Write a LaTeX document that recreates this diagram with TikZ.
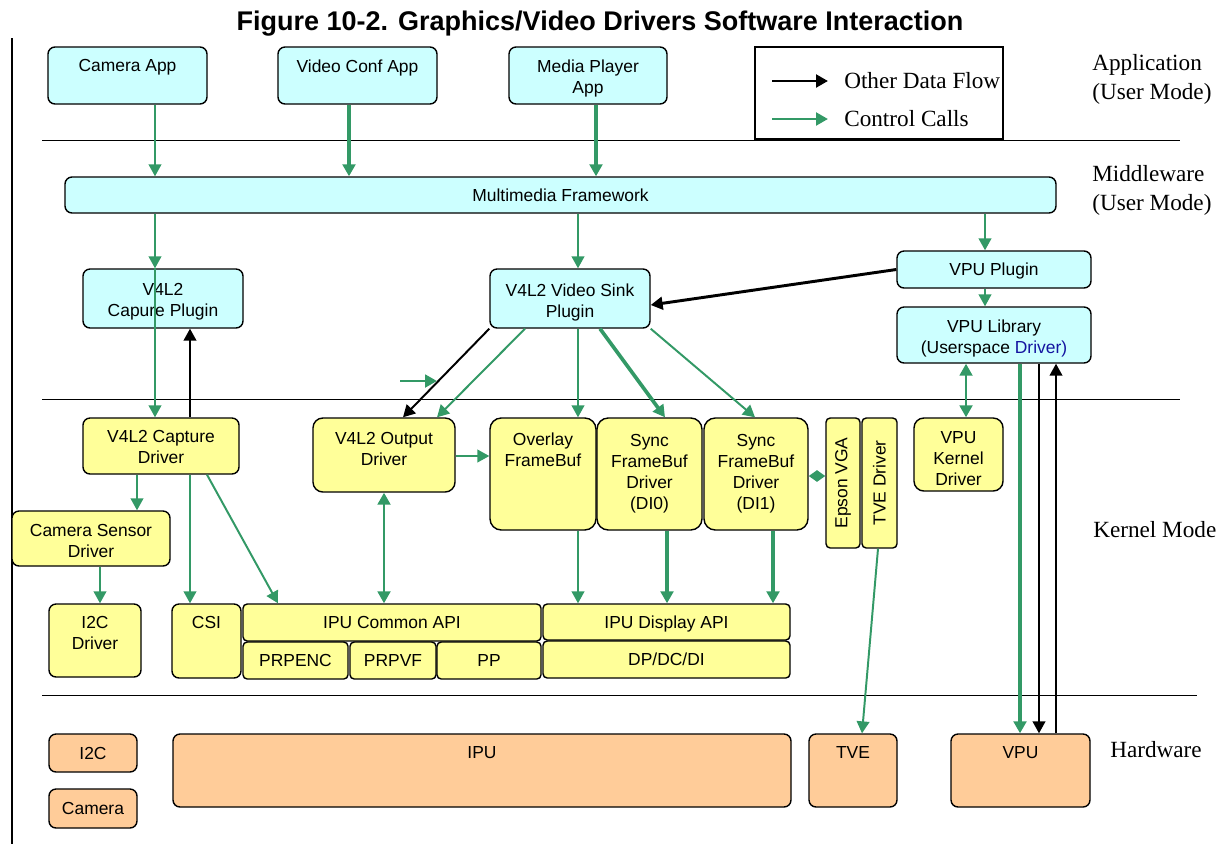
\documentclass[tikz,border=0pt]{standalone}
\usepackage{fontspec}
\setmainfont{Liberation Serif}
\setsansfont{Liberation Sans}
\usetikzlibrary{arrows.meta}
\definecolor{appcyan}{RGB}{204,255,255}
\definecolor{kernelyellow}{RGB}{255,255,153}
\definecolor{hworange}{RGB}{255,204,153}
\definecolor{ctrlgreen}{RGB}{51,153,102}
\definecolor{drvblue}{RGB}{20,20,160}
\newcommand{\boxfont}{\sffamily\fontsize{12.4}{15}\selectfont}
\newcommand{\layerfont}{\rmfamily\fontsize{16.5}{20.6}\selectfont}

\begin{document}
\begin{tikzpicture}[x=0.025cm, y=-0.025cm,
    >={Triangle[length=8.5pt, width=9pt]},
    box/.style={draw, rounded corners=5pt, line width=1pt, font=\boxfont, align=center, inner sep=1pt},
    appbox/.style={box, fill=appcyan},
    kbox/.style={box, fill=kernelyellow},
    hwbox/.style={box, fill=hworange},
    oneline/.style={text height=8.9pt, text depth=0pt},
    box size/.style 2 args={minimum width=#1*0.025cm, minimum height=#2*0.025cm},
    toptxt/.style={anchor=north, inner sep=0pt, yshift=-#1, font=\boxfont, align=center},
    toptxt/.default=0.32cm,
    layer/.style={font=\layerfont, align=left, inner sep=0pt},
    ctrl/.style={->, draw=ctrlgreen, line width=1.4pt},
    ctrl thick/.style={ctrl, line width=2.6pt},
    ctrl both/.style={<->, draw=ctrlgreen, line width=2pt},
    data/.style={->, draw=black, line width=1.4pt},
    data thick/.style={data, line width=2.1pt},
    sep/.style={line width=0.6pt}
]
    \useasboundingbox (0,0) rectangle (1220,844);

    % Title and layer separators
    \node[anchor=base, inner sep=0pt, font=\sffamily\bfseries\fontsize{19.2}{23}\selectfont] (title) at (600,30.7) {Figure 10-2. Graphics/Video Drivers Software Interaction};
    \draw[line width=1.6pt] (12,38) -- (12,844);
    \draw[sep] (42,140) -- (1180,140);
    \draw[sep] (42,399) -- (1180,399);
    \draw[sep] (42,695) -- (1197,695);

    % Layer names
    \node[layer, anchor=north west] (lapp) at (1092,54) {Application\\(User Mode)};
    \node[layer, anchor=north west] (lmid) at (1092,165) {Middleware\\(User Mode)};
    \node[layer, anchor=base west] (lkern) at (1093,537.7) {Kernel Mode};
    \node[layer, anchor=base west] (lhw) at (1110,757.7) {Hardware};

    % Legend
    \node[draw, line width=0.8pt, fill=white, box size={248}{92}] (legend) at (879,93) {};
    \node[layer, anchor=west] (lgdata) at (844,81) {Other Data Flow};
    \node[layer, anchor=west] (lgctrl) at (844,119) {Control Calls};
    \coordinate (lgdata-a) at (772,81);
    \coordinate (lgdata-b) at (828,81);
    \coordinate (lgctrl-a) at (772,119);
    \coordinate (lgctrl-b) at (828,119);
    \draw[data thick] (lgdata-a) -- (lgdata-b);
    \draw[ctrl, line width=2.1pt] (lgctrl-a) -- (lgctrl-b);

    % Applications
    \node[appbox, box size={159}{57}, label={[toptxt]north:Camera App}] (camapp) at (127.5,75.5) {};
    \node[appbox, box size={159}{57}, label={[toptxt]north:Video Conf App}] (confapp) at (357.5,75.5) {};
    \node[appbox, box size={158}{57}, label={[toptxt]north:Media Player\\App}] (mediaapp) at (588,75.5) {};

    % Middleware
    \node[appbox, oneline, box size={991}{36}] (mmf) at (560.5,195) {Multimedia Framework};
    \node[appbox, box size={160}{59}, label={[toptxt=0.37cm]north:V4L2\\Capure Plugin}] (capplugin) at (163,298.5) {};
    \node[appbox, box size={160}{59}, label={[toptxt=0.37cm]north:V4L2 Video Sink\\Plugin}] (sinkplugin) at (570,298.5) {};
    \node[appbox, oneline, box size={194}{37}] (vpuplugin) at (994,269.5) {VPU Plugin};
    \node[appbox, box size={194}{56}, label={[toptxt=0.34cm]north:VPU Library\\(Userspace \textcolor{drvblue}{Driver)}}] (vpulib) at (994,335) {};

    % Kernel drivers
    \node[kbox, box size={156}{56}, label={[toptxt]north:V4L2 Capture\\Driver}] (capdrv) at (161,446) {};
    \node[kbox, rounded corners=7pt, box size={142}{74}, label={[toptxt=0.37cm]north:V4L2 Output\\Driver}] (outdrv) at (384,455) {};
    \node[kbox, rounded corners=8pt, box size={106}{112}, label={[toptxt=0.39cm]north:Overlay\\FrameBuf}] (overlay) at (543,474) {};
    \node[kbox, rounded corners=8pt, box size={105}{112}] (di0) at (649.5,474) {Sync\\FrameBuf\\Driver\\(DI0)};
    \node[kbox, rounded corners=8pt, box size={104}{112}] (di1) at (756,474) {Sync\\FrameBuf\\Driver\\(DI1)};
    \node[kbox, rounded corners=3pt, box size={34}{130}] (epson) at (843,483) {\rotatebox{90}{Epson VGA}};
    \node[kbox, rounded corners=3pt, box size={35}{130}] (tvedrv) at (879.5,483) {\rotatebox{90}{TVE Driver}};
    \node[kbox, rounded corners=7pt, box size={89}{73}, label={[toptxt=0.34cm]north:VPU\\Kernel\\Driver}] (vpukdrv) at (958.5,454.5) {};
    \node[kbox, box size={158}{55}, label={[toptxt=0.34cm]north:Camera Sensor\\Driver}] (camsens) at (91,538.5) {};
    \node[kbox, box size={92}{73}, label={[toptxt]north:I2C\\Driver}] (i2cdrv) at (95,640.5) {};
    \node[kbox, box size={69}{74}, label={[toptxt]north:CSI}] (csi) at (206.5,641) {};
    \node[kbox, oneline, rounded corners=3pt, box size={298}{37}] (ipucommon) at (392,622.5) {IPU Common API};
    \node[kbox, oneline, rounded corners=3pt, box size={105}{37}] (prpenc) at (295.5,660.5) {PRPENC};
    \node[kbox, oneline, rounded corners=3pt, box size={86}{37}] (prpvf) at (393,660.5) {PRPVF};
    \node[kbox, oneline, rounded corners=3pt, box size={104}{37}] (pp) at (489,660.5) {PP};
    \node[kbox, oneline, rounded corners=3pt, box size={247}{36}] (ipudisp) at (666.5,622) {IPU Display API};
    \node[kbox, oneline, rounded corners=3pt, box size={247}{37}] (dpdcdi) at (666.5,659.5) {DP/DC/DI};

    % Hardware
    \node[hwbox, oneline, box size={88}{38}] (hwi2c) at (93,753) {I2C};
    \node[hwbox, oneline, box size={88}{39}] (hwcam) at (93,808.5) {Camera};
    \node[hwbox, box size={618}{73}, label={[toptxt]north:IPU}] (hwipu) at (482,770.5) {};
    \node[hwbox, box size={88}{73}, label={[toptxt]north:TVE}] (hwtve) at (853,770.5) {};
    \node[hwbox, box size={139}{73}, label={[toptxt]north:VPU}] (hwvpu) at (1020.5,770.5) {};

    % Control calls
    \draw[ctrl] (155,0 |- camapp.south) -- (155,0 |- mmf.north);
    \draw[ctrl thick] (349,0 |- confapp.south) -- (349,0 |- mmf.north);
    \draw[ctrl thick] (596,0 |- mediaapp.south) -- (596,0 |- mmf.north);
    \draw[ctrl] (155,0 |- mmf.south) -- (155,0 |- capplugin.north);
    \draw[ctrl] (155,0 |- capplugin.north) -- (155,0 |- capdrv.north);
    \draw[ctrl] (578,0 |- mmf.south) -- (578,0 |- sinkplugin.north);
    \draw[ctrl] (985,0 |- mmf.south) -- (985,0 |- vpuplugin.north);
    \draw[ctrl] (985,0 |- vpuplugin.south) -- (985,0 |- vpulib.north);
    \draw[ctrl] (525,0 |- sinkplugin.south) -- (437,0 |- outdrv.north);
    \draw[ctrl] (578,0 |- sinkplugin.south) -- (578,0 |- overlay.north);
    \draw[ctrl thick] (600,0 |- sinkplugin.south) -- (665,0 |- di0.north);
    \draw[ctrl] (sinkplugin.south east) -- (755,0 |- di1.north);
    \coordinate (stray-a) at (400,381);
    \coordinate (stray-b) at (437,381);
    \draw[ctrl, line width=2pt] (stray-a) -- (stray-b);
    \draw[ctrl] (outdrv.east |- 0,456) -- (overlay.west |- 0,456);
    \draw[ctrl both] (outdrv.south) -- (outdrv.south |- ipucommon.north);
    \draw[ctrl] (137,0 |- capdrv.south) -- (137,0 |- camsens.north);
    \draw[ctrl] (190,0 |- capdrv.south) -- (190,0 |- csi.north);
    \draw[ctrl] (207,0 |- capdrv.south) -- (278,0 |- ipucommon.north);
    \draw[ctrl] (100,0 |- camsens.south) -- (100,0 |- i2cdrv.north);
    \draw[ctrl] (578,0 |- overlay.south) -- (578,0 |- ipudisp.north);
    \draw[ctrl thick] (667,0 |- di0.south) -- (667,0 |- ipudisp.north);
    \draw[ctrl thick] (773,0 |- di1.south) -- (773,0 |- ipudisp.north);
    \draw[ctrl both, >={Triangle[length=6pt, width=8pt]}] (di1.east |- 0,476) -- (epson.west |- 0,476);
    \draw[ctrl] (878,0 |- tvedrv.south) -- (862,0 |- hwtve.north);
    \draw[ctrl both] (966,0 |- vpulib.south) -- (966,0 |- vpukdrv.north);
    \draw[ctrl thick] (1020,0 |- vpulib.south) -- (1020,0 |- hwvpu.north);

    % Other data flow
    \draw[data] (190,0 |- capdrv.north) -- (190,0 |- capplugin.south);
    \draw[data thick] (vpuplugin.west) -- (sinkplugin.east |- 0,305);
    \draw[data] (sinkplugin.south west) -- (403,0 |- outdrv.north);
    \draw[data] (1039,0 |- vpulib.south) -- (1039,0 |- hwvpu.north);
    \draw[data] (1056,0 |- hwvpu.north) -- (1056,0 |- vpulib.south);
\end{tikzpicture}
\end{document}
